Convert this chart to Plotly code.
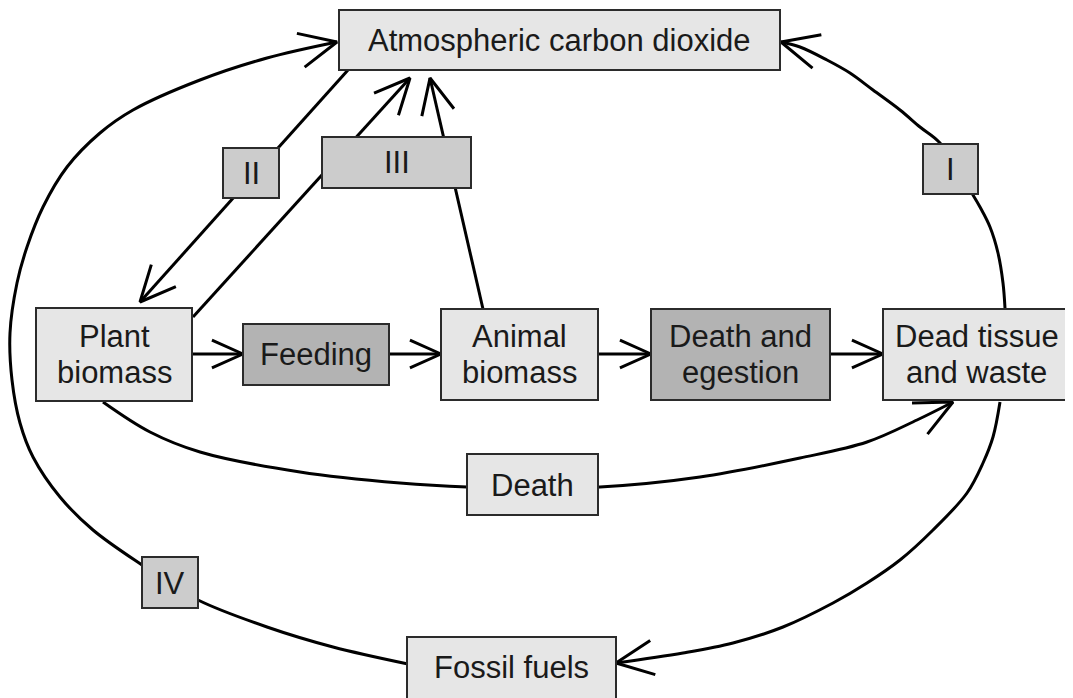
import math
import plotly.graph_objects as go

# ---------------- data ----------------
node_names = ["co2", "plant", "feeding", "animal", "death_eg", "dead", "death", "fossil",
              "I", "II", "III", "IV"]
node_labels = ["Atmospheric carbon dioxide", "Plant|biomass", "Feeding", "Animal|biomass",
               "Death and|egestion", "Dead tissue|and waste", "Death", "Fossil fuels",
               "I", "II", "III", "IV"]
node_x0 = [339, 36, 243, 441, 651, 883, 467, 407, 923, 223, 322, 142]
node_x1 = [780, 192, 389, 598, 830, 1070, 598, 616, 978, 279, 471, 198]
node_y0 = [10, 308, 324, 309, 309, 309, 454, 637, 144, 148, 137, 557]
node_y1 = [70, 401, 385, 400, 400, 400, 515, 705, 194, 198, 188, 608]
node_text_y = [40, 354, 354, 354, 354, 354, 485, 667, 169, 173, 162, 583]
node_shade = ["light", "light", "dark", "light", "dark", "light", "light", "light",
              "mid", "mid", "mid", "mid"]

# connector paths (waypoints); last point is the arrow tip
left_arc_x = [408, 333, 267, 198, 170, 142, 93, 60, 33, 20, 12, 10, 17, 27, 43, 67, 100, 133, 200, 267, 337]
left_arc_y = [664, 647, 627, 600, 583, 565, 530, 497, 457, 423, 380, 333, 283, 247, 207, 167, 133, 110, 80, 58, 42]

right_arc_x = [1005, 1003, 998, 990, 980, 973, 940, 920, 900, 873, 850, 827, 800, 781]
right_arc_y = [308, 283, 253, 227, 207, 195, 143, 127, 110, 90, 73, 60, 47, 42]

dead_fossil_x = [1000, 993, 983, 967, 933, 900, 867, 833, 783, 733, 683, 616]
dead_fossil_y = [402, 437, 463, 493, 530, 560, 583, 603, 627, 643, 653, 663]

death_curve_x = [103, 150, 200, 300, 400, 467, 532, 600, 700, 800, 867, 917, 953]
death_curve_y = [402, 432, 452, 472, 483, 487, 488, 487, 477, 458, 442, 420, 402]

ii_line_x = [348, 140]
ii_line_y = [70, 302]
iii_plant_x = [193, 410]
iii_plant_y = [317, 78]
iii_animal_x = [483, 430]
iii_animal_y = [309, 78]

horiz_from_x = [192, 389, 598, 830]
horiz_to_x = [243, 441, 651, 883]
horiz_y = [354, 354, 354, 354]

shade_colors = {"light": "#e6e6e6", "mid": "#cccccc", "dark": "#b3b3b3"}

# ---------------- figure ----------------
fig = go.Figure()
LW = 3
FONT = dict(family="Liberation Sans, Arial, sans-serif", size=31, color="#1a1a1a")


def add_line(xs, ys, spline=False):
    fig.add_trace(go.Scatter(x=xs, y=ys, mode="lines",
                             line=dict(color="black", width=LW,
                                       shape="spline" if spline else "linear",
                                       smoothing=1.0),
                             hoverinfo="skip", showlegend=False))


def add_head(tip_x, tip_y, frm_x, frm_y, L=41, ang=25):
    dx, dy = frm_x - tip_x, frm_y - tip_y
    n = math.hypot(dx, dy)
    dx, dy = dx / n, dy / n
    pts = []
    for s in (1, -1):
        a = math.radians(ang * s)
        rx = dx * math.cos(a) - dy * math.sin(a)
        ry = dx * math.sin(a) + dy * math.cos(a)
        pts.append((tip_x + L * rx, tip_y + L * ry))
    fig.add_trace(go.Scatter(x=[pts[0][0], tip_x, pts[1][0]],
                             y=[pts[0][1], tip_y, pts[1][1]], mode="lines",
                             line=dict(color="black", width=LW),
                             hoverinfo="skip", showlegend=False))


# curves
for xs, ys in [(left_arc_x, left_arc_y), (right_arc_x, right_arc_y),
               (dead_fossil_x, dead_fossil_y), (death_curve_x, death_curve_y)]:
    add_line(xs, ys, spline=True)
    add_head(xs[-1], ys[-1], xs[-2], ys[-2])

# straight lines
for xs, ys in [(ii_line_x, ii_line_y), (iii_plant_x, iii_plant_y), (iii_animal_x, iii_animal_y)]:
    add_line(xs, ys)
    add_head(xs[-1], ys[-1], xs[0], ys[0], L=39)

for fx, tx, yy in zip(horiz_from_x, horiz_to_x, horiz_y):
    add_line([fx, tx], [yy, yy])
    add_head(tx, yy, fx, yy, L=34, ang=24)

# boxes and labels
for i in range(len(node_names)):
    fig.add_shape(type="rect", xref="x", yref="y",
                  x0=node_x0[i], x1=node_x1[i], y0=node_y0[i], y1=node_y1[i],
                  line=dict(color="#2b2b2b", width=2),
                  fillcolor=shade_colors[node_shade[i]], layer="above")
    lines = node_labels[i].split("|")
    cx = (node_x0[i] + node_x1[i]) / 2
    cy = node_text_y[i]
    if len(lines) == 1:
        offsets = [0]
    else:
        offsets = [-18, 18]
    for txt, off in zip(lines, offsets):
        fig.add_annotation(x=cx, y=cy + off, xref="x", yref="y",
                           text=txt, showarrow=False, font=FONT,
                           xanchor="center", yanchor="middle", align="center")

# page body has an 8px margin: shift the plotting area so data units = page pixels
fig.update_layout(
    width=1065, height=690, autosize=False,
    margin=dict(l=0, r=0, t=0, b=0),
    paper_bgcolor="white", plot_bgcolor="white",
    xaxis=dict(range=[8, 1073], visible=False, fixedrange=True),
    yaxis=dict(range=[698, 8], visible=False, fixedrange=True),
    showlegend=False,
)

fig.write_html("out.html")
